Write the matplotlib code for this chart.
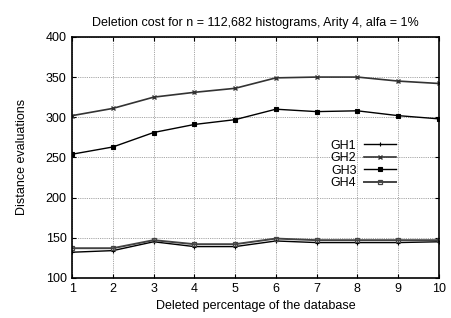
import matplotlib
matplotlib.use("Agg")
import matplotlib.pyplot as plt

# deleted percentage of the database
pct = [1, 2, 3, 4, 5, 6, 7, 8, 9, 10]

# distance evaluations per structure
gh1 = [132, 134, 145, 139, 139, 146, 144, 144, 144, 145]
gh2 = [302, 311, 325, 331, 336, 349, 350, 350, 345, 342]
gh3 = [254, 263, 281, 291, 297, 310, 307, 308, 302, 298]
gh4 = [137, 137, 147, 142, 142, 149, 147, 147, 147, 147]

plt.rcParams["font.family"] = ["Liberation Sans", "DejaVu Sans"]
plt.rcParams["font.size"] = 9

fig = plt.figure(figsize=(4.51, 3.18), dpi=100)
ax = fig.add_axes([0.160, 0.126, 0.813, 0.758])

ax.plot(pct, gh1, color="black", lw=1.0, marker="+", ms=3.5, mew=0.8, label="GH1")
ax.plot(pct, gh2, color="#333333", lw=1.2, marker="x", ms=3, mew=1.0, label="GH2")
ax.plot(pct, gh3, color="black", lw=1.0, marker="s", ms=2.3, mew=0.8, label="GH3")
ax.plot(pct, gh4, color="#444444", lw=1.4, marker="s", ms=3.5, mew=0.9,
        mfc="none", label="GH4")

ax.set_xlim(1, 10)
ax.set_ylim(100, 400)
ax.set_xticks(pct)
ax.set_yticks(range(100, 401, 50))
ax.grid(True, color="#888888", ls=(0, (1, 1.2)), lw=0.6)
ax.tick_params(direction="in", top=True, right=True, length=3, labelsize=9, pad=4)
for s in ax.spines.values():
    s.set_linewidth(1.2)

ax.set_title("Deletion cost for n = 112,682 histograms, Arity 4, alfa = 1%",
             fontsize=9, pad=8)
ax.set_xlabel("Deleted percentage of the database", fontsize=9, labelpad=3)
ax.set_ylabel("Distance evaluations", fontsize=9, labelpad=13)

ax.legend(loc="upper right", bbox_to_anchor=(0.905, 0.605), markerfirst=False,
          frameon=False, fontsize=9, handlelength=2.6, labelspacing=0.05,
          handletextpad=0.6, borderpad=0.1)

fig.savefig("out.png", dpi=100)
